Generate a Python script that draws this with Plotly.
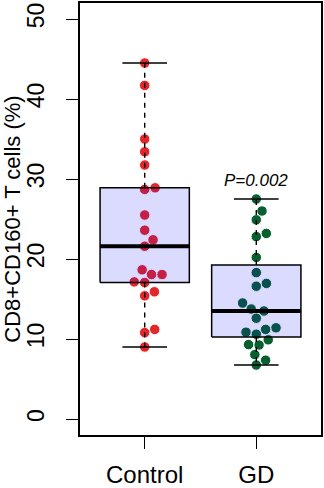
import numpy as np
import plotly.graph_objects as go

# ---- data ----
categories = ["Control", "GD"]
control_values = [44.5, 41.7, 35.0, 33.4, 31.75, 28.9, 28.7, 25.5, 23.6, 22.4, 21.6,
                  18.65, 18.06, 18.06, 17.14, 17.06, 15.9, 15.4, 11.2, 10.8, 9.0]
gd_values = [27.5, 26.0, 24.9, 23.2, 22.8, 20.2, 18.3, 16.95, 16.6, 14.5, 13.75, 13.5,
             12.6, 11.4, 11.2, 10.85, 10.6, 9.9, 9.3, 9.25, 8.05, 7.35, 6.75]
point_colors = ["#E3262A", "#0A5F30"]
y_ticks = [0, 10, 20, 30, 40, 50]
p_label = "P=0.002"

groups = [control_values, gd_values]

# ---- layout geometry ----
W, H = 324, 488
ML, MR, MT, MB = 80, 3, 3, 53
XR = [0.42, 2.58]
YR = [-2, 52]
px_per_x = (W - ML - MR) / (XR[1] - XR[0])
px_per_y = (H - MT - MB) / (YR[1] - YR[0])
DOT = 10.5  # dot diameter in px for swarm spacing


def swarm_offsets(vals):
    """Simple ascending swarm (like R beeswarm 'swarm'), returns x offsets in data units."""
    order = np.argsort(vals, kind="stable")
    placed = []  # (x_px, y_px)
    offs = np.zeros(len(vals))
    for i in order:
        y = vals[i] * px_per_y
        intervals = []
        for (xp, yp) in placed:
            dy = abs(y - yp)
            if dy < DOT:
                dx = np.sqrt(DOT ** 2 - dy ** 2)
                intervals.append((xp - dx, xp + dx))
        cands = [0.0] + [a for a, b in intervals] + [b for a, b in intervals]
        cands.sort(key=lambda c: (abs(c), -c))
        for c in cands:
            if all(not (a + 1e-9 < c < b - 1e-9) for a, b in intervals):
                break
        placed.append((c, y))
        offs[i] = c / px_per_x
    return offs


def fivenum(v):
    x = np.sort(np.asarray(v, dtype=float))
    n = len(x)
    n4 = np.floor((n + 3) / 2) / 2
    d = np.array([1, n4, (n + 1) / 2, n + 1 - n4, n])
    return 0.5 * (x[np.floor(d).astype(int) - 1] + x[np.ceil(d).astype(int) - 1])


fig = go.Figure()

# points (drawn first, box drawn on top with translucent fill)
for k, (vals, col) in enumerate(zip(groups, point_colors)):
    vals = np.asarray(vals, dtype=float)
    xs = (k + 1) + swarm_offsets(vals)
    fig.add_trace(go.Scatter(
        x=xs, y=vals, mode="markers",
        marker=dict(size=10.5, color=col, line=dict(color="white", width=1)),
        showlegend=False, hoverinfo="y"))

# boxes
half = 0.4
cap = 0.2
for k, vals in enumerate(groups):
    c = k + 1
    lo_h, q1, med, q3, hi_h = fivenum(vals)
    iqr = q3 - q1
    arr = np.asarray(vals, dtype=float)
    w_lo = arr[arr >= q1 - 1.5 * iqr].min()
    w_hi = arr[arr <= q3 + 1.5 * iqr].max()
    # whiskers dashed
    for a, b in [(q3, w_hi), (q1, w_lo)]:
        fig.add_trace(go.Scatter(x=[c, c], y=[a, b], mode="lines",
                                 line=dict(color="black", width=1.4, dash="5px,5px"),
                                 showlegend=False, hoverinfo="skip"))
    # caps
    for v in [w_hi, w_lo]:
        fig.add_trace(go.Scatter(x=[c - cap, c + cap], y=[v, v], mode="lines",
                                 line=dict(color="black", width=1.4),
                                 showlegend=False, hoverinfo="skip"))
    # box
    fig.add_trace(go.Scatter(
        x=[c - half, c + half, c + half, c - half, c - half],
        y=[q1, q1, q3, q3, q1], mode="lines", fill="toself",
        fillcolor="rgba(0,0,255,0.14)", line=dict(color="black", width=1.5),
        showlegend=False, hoverinfo="skip"))
    # median
    fig.add_trace(go.Scatter(x=[c - half, c + half], y=[med, med], mode="lines",
                             line=dict(color="black", width=4),
                             showlegend=False, hoverinfo="skip"))

# P-value label above GD
fig.add_annotation(x=2, y=max(gd_values) + 2.3, text=p_label, showarrow=False,
                   font=dict(family="Liberation Sans, Arial", size=17, color="black",
                             style="italic"),
                   xref="x", yref="y", yanchor="middle")

font = "Liberation Sans, Arial, sans-serif"
fig.update_layout(
    width=W, height=H,
    margin=dict(l=ML, r=MR, t=MT, b=MB, pad=0, autoexpand=False),
    paper_bgcolor="white", plot_bgcolor="white",
    showlegend=False,
    font=dict(family=font, color="black"),
    xaxis=dict(range=XR, tickmode="array", tickvals=[1, 2], ticktext=categories,
               automargin=False,
               showgrid=False, zeroline=False, showline=True, mirror=True,
               linecolor="black", linewidth=1.5, ticks="outside", ticklen=12,
               tickwidth=1.3, tickcolor="black", tickfont=dict(size=24, family=font),
               ticklabelstandoff=5),
    yaxis=dict(range=YR, tickmode="array", tickvals=y_ticks, automargin=False,
               showgrid=False, zeroline=False, showline=True, mirror=True,
               linecolor="black", linewidth=1.5, ticks="outside", ticklen=12,
               tickwidth=1.3, tickcolor="black", tickangle=-90,
               tickfont=dict(size=23, family=font), ticklabelstandoff=13,
               title=dict(text="CD8+CD160+ T cells (%)", font=dict(size=22, family=font),
                          standoff=2)),
)

fig.write_html("out.html", config={"displayModeBar": False},
               post_script="document.body.style.margin='0';document.body.style.padding='0';")
